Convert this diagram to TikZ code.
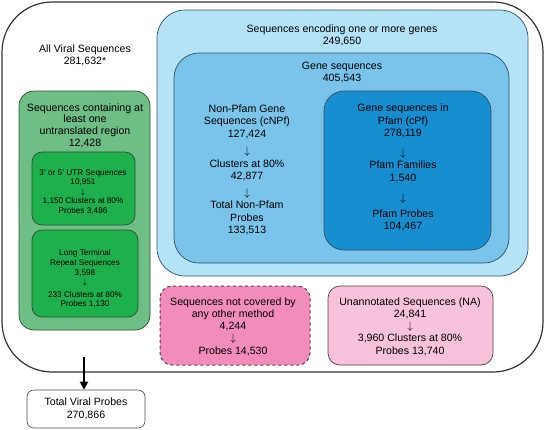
\documentclass[tikz,border=0pt]{standalone}
\usepackage{fontspec}
\setmainfont{Liberation Sans}
\usepackage{xcolor}
\usepackage{tikz}
\usetikzlibrary{arrows.meta}

\definecolor{greenout}{RGB}{110,190,134}
\definecolor{greenin}{RGB}{30,176,76}
\definecolor{greenline}{RGB}{40,80,50}
\definecolor{blueone}{RGB}{180,227,248}
\definecolor{bluetwo}{RGB}{122,195,234}
\definecolor{bluethree}{RGB}{22,142,208}
\definecolor{blueline}{RGB}{50,80,100}
\definecolor{pinkdark}{RGB}{242,141,187}
\definecolor{pinklight}{RGB}{248,194,220}
\definecolor{pinkline}{RGB}{90,60,75}

\begin{document}
\begin{tikzpicture}[x=1pt, y=-1pt,
  bigtxt/.style={align=center, font=\fontsize{10.6}{12.5}\selectfont},
  smalltxt/.style={align=center, font=\fontsize{8.2}{9.6}\selectfont},
  panel/.style={draw=#1, line width=0.7pt}]
  \useasboundingbox (0,0) rectangle (545,429);

  % all viral sequences
  \draw[line width=1.2pt, draw=black!80, rounded corners=50] (2,2) rectangle (543,372);
  \node[bigtxt] (allviral) at (85,55.5) {All Viral Sequences\\281,632*};

  % untranslated regions
  \draw[panel=greenline, fill=greenout, rounded corners=15] (19,91) rectangle (150,330);
  \node[bigtxt, font=\fontsize{10.6}{11.7}\selectfont] (utrall) at (85,125.5)
    {Sequences containing at\\least one\\untranslated region\\12,428};
  \draw[panel=greenline, fill=greenin, rounded corners=10] (32,152) rectangle (135,225);
  \node[smalltxt] (utr) at (83,192)
    {3’ or 5’ UTR Sequences\\10,951\\$\downarrow$\\1,150 Clusters at 80\%\\Probes 3,486};
  \draw[panel=greenline, fill=greenin, rounded corners=10] (32,230) rectangle (138,317);
  \node[smalltxt] (ltr) at (85,279)
    {Long Terminal\\Repeat Sequences\\3,598\\$\downarrow$\\[3pt]233 Clusters at 80\%\\Probes 1,130};

  % gene encoding sequences
  \draw[panel=blueline, fill=blueone, rounded corners=28] (157,10) rectangle (528,276);
  \node[bigtxt] (encoding) at (342,35.5) {Sequences encoding one or more genes\\249,650};
  \draw[panel=blueline, fill=bluetwo, rounded corners=25] (174,53) rectangle (509,263);
  \node[bigtxt] (genes) at (342,72.5) {Gene sequences\\405,543};
  \node[bigtxt] (nonpfam) at (247,170)
    {Non-Pfam Gene\\Sequences (cNPf)\\127,424\\[5pt]$\downarrow$\\Clusters at 80\%\\42,877\\[4pt]$\downarrow$\\Total Non-Pfam\\Probes\\133,513};
  \draw[panel=blueline, fill=bluethree, rounded corners=20] (324,91) rectangle (491,250);
  \node[bigtxt] (pfam) at (403,167.5)
    {Gene sequences in\\Pfam (cPf)\\278,119\\[7pt]$\downarrow$\\Pfam Families\\1,540\\[8pt]$\downarrow$\\[3pt]Pfam Probes\\104,467};

  % left over sequences
  \draw[panel=pinkline, fill=pinkdark, dashed, line width=1pt, rounded corners=12] (160,286) rectangle (310,365);
  \node[bigtxt, font=\fontsize{10.6}{12.2}\selectfont] (other) at (233,326.5)
    {Sequences not covered by\\any other method\\4,244\\$\downarrow$\\Probes 14,530};
  \draw[panel=pinkline, fill=pinklight, rounded corners=12] (328,286) rectangle (493,365);
  \node[bigtxt, font=\fontsize{10.6}{12.2}\selectfont] (unannot) at (410,326.5)
    {Unannotated Sequences (NA)\\24,841\\$\downarrow$\\3,960 Clusters at 80\%\\Probes 13,740};

  % total
  \node[bigtxt, draw=black!70, line width=0.6pt, rounded corners=7,
        minimum width=118, minimum height=38] (total) at (86,409)
    {Total Viral Probes\\270,866};
  \coordinate (viralout) at (84,357);
  \draw[line width=2pt, -{Triangle[width=8pt,length=8pt]}] (viralout) -- (viralout |- total.north);
\end{tikzpicture}
\end{document}
